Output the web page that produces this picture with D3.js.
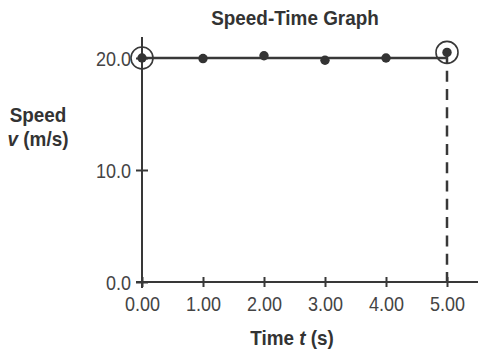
<!DOCTYPE html>
<html>
<head>
<meta charset="utf-8">
<script src="https://cdn.jsdelivr.net/npm/d3@7"></script>
<style>
  html, body { margin: 0; padding: 0; background: #fff; }
  svg { display: block; font-family: "Liberation Sans", Arial, Helvetica, sans-serif; }
</style>
</head>
<body>
<svg id="chart" width="479" height="352"></svg>
<script>
// ---- data ----
const times = [0, 1, 2, 3, 4, 5];
const speeds = [20.0, 19.95, 20.2, 19.8, 20.0, 20.5];
const xTicks = [0, 1, 2, 3, 4, 5];
const yTicks = [0, 10, 20];
const fitSpeed = 20.0;
const circled = [0, 5]; // indices of circled points
const title = "Speed-Time Graph";

// ---- drawing ----
const svg = d3.select("#chart");
const ink = "#383838";
const sx = 0.9; // horizontal condensing of the lettering
const x = d3.scaleLinear().domain([0, 5]).range([142, 447]);
const y = d3.scaleLinear().domain([0, 20]).range([282, 58]);

function label(px, py, size) {
  return svg.append("text").attr("transform", `translate(${px},${py}) scale(${sx},1)`)
    .attr("text-anchor", "middle").attr("font-size", size)
    .attr("font-weight", "bold").attr("fill", "#333");
}

// title
label(295, 25, 21).text(title);

// axes lines (extended)
svg.append("line").attr("x1", x(0) - 6).attr("x2", 478).attr("y1", y(0)).attr("y2", y(0))
  .attr("stroke", ink).attr("stroke-width", 2);
svg.append("line").attr("x1", x(0)).attr("x2", x(0)).attr("y1", 37).attr("y2", y(0) + 6)
  .attr("stroke", ink).attr("stroke-width", 2);

// x axis
const gx = svg.append("g").attr("transform", `translate(0,${y(0)})`)
  .call(d3.axisBottom(x).tickValues(xTicks).tickFormat(d3.format(".2f")).tickSize(5).tickPadding(10));
gx.select(".domain").remove();
gx.selectAll(".tick line").attr("y1", -5).attr("y2", 5).attr("stroke", ink).attr("stroke-width", 2);
gx.selectAll(".tick text").attr("font-size", 20).attr("fill", "#444")
  .attr("font-family", "'Liberation Sans', Arial, sans-serif")
  .attr("y", 15).attr("dy", 14.5).attr("transform", `scale(${sx},1)`);

// y axis
const gy = svg.append("g").attr("transform", `translate(${x(0)},0)`)
  .call(d3.axisLeft(y).tickValues(yTicks).tickFormat(d3.format(".1f")).tickSize(6).tickPadding(5));
gy.select(".domain").remove();
gy.selectAll(".tick line").attr("x1", -6).attr("x2", 6).attr("stroke", ink).attr("stroke-width", 2);
gy.selectAll(".tick text").attr("font-size", 20).attr("fill", "#444")
  .attr("font-family", "'Liberation Sans', Arial, sans-serif")
  .attr("x", -11 / sx).attr("dy", "0.36em").attr("transform", `scale(${sx},1)`);

// axis labels
const xl = label(292, 345, 21);
xl.append("tspan").text("Time ");
xl.append("tspan").attr("font-style", "italic").text("t");
xl.append("tspan").text(" (s)");

const yl = label(38, 0, 21);
yl.append("tspan").attr("x", 0).attr("y", 122).text("Speed");
const yl2 = yl.append("tspan").attr("x", 0).attr("y", 146);
yl2.append("tspan").attr("font-style", "italic").text("v");
yl2.append("tspan").text(" (m/s)");

// dashed drop line from last point
const last = times.length - 1;
svg.append("line").attr("x1", x(times[last])).attr("x2", x(times[last]))
  .attr("y1", y(speeds[last])).attr("y2", y(0))
  .attr("stroke", ink).attr("stroke-width", 2.5).attr("stroke-dasharray", "11,7.3");

// fit line
svg.append("line").attr("x1", x(times[0])).attr("x2", x(times[last]))
  .attr("y1", y(fitSpeed)).attr("y2", y(fitSpeed))
  .attr("stroke", ink).attr("stroke-width", 2.5);

// circles around endpoints
svg.selectAll("circle.ring").data(circled).join("circle").attr("class", "ring")
  .attr("cx", i => x(times[i])).attr("cy", i => y(speeds[i])).attr("r", 11)
  .attr("fill", "none").attr("stroke", ink).attr("stroke-width", 1.6);

// points
svg.selectAll("circle.pt").data(times).join("circle").attr("class", "pt")
  .attr("cx", d => x(d)).attr("cy", (d, i) => y(speeds[i])).attr("r", 4.7)
  .attr("fill", "#333");
</script>
</body>
</html>
